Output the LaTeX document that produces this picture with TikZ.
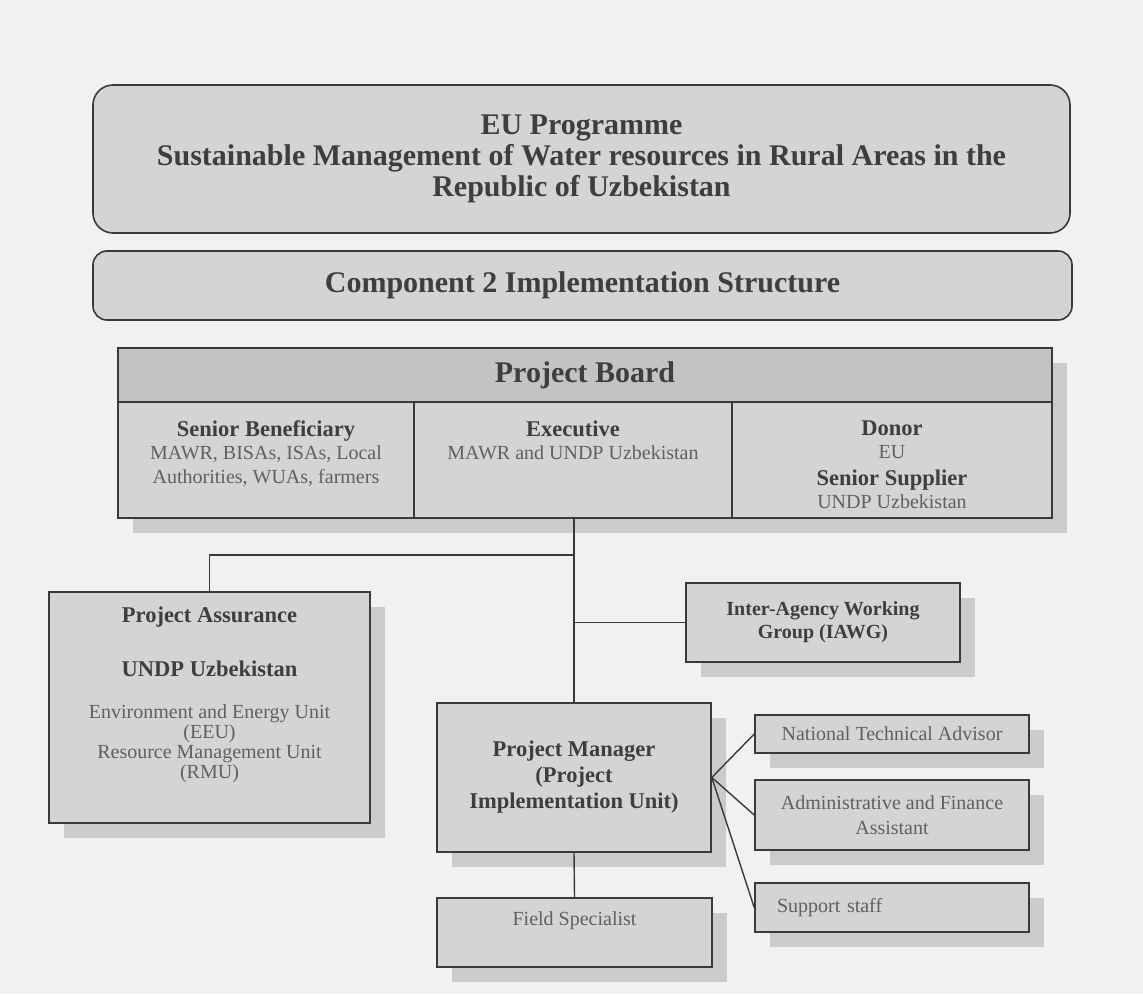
\documentclass[tikz,border=0pt]{standalone}
\usepackage{fontspec}
\setmainfont{Liberation Serif}
\usetikzlibrary{shadows}
\definecolor{pagegrey}{HTML}{F1F1F1}
\definecolor{boxgrey}{HTML}{D4D4D5}
\definecolor{headgrey}{HTML}{C3C3C4}
\definecolor{shadegrey}{HTML}{CBCBCB}
\definecolor{linegrey}{HTML}{3A3A3A}
\definecolor{darktext}{HTML}{3E3E3E}
\definecolor{softtext}{HTML}{606060}
\newcommand\headfont{\fontsize{15}{15.5}\selectfont\bfseries}
\newcommand\subbf{\fontsize{11.25}{10}\selectfont\bfseries\color{darktext}}
\newcommand\plainfont{\fontsize{10}{11.75}\selectfont}
\begin{document}
\begin{tikzpicture}[x=0.5pt, y=-0.5pt,
	box/.style={draw=linegrey, line width=0.8pt, fill=boxgrey, align=center, text=softtext, inner sep=0pt,
		drop shadow={shadow xshift=7.5pt, shadow yshift=-7.5pt, fill=shadegrey, opacity=1}},
	roundbox/.style={draw=linegrey, line width=0.8pt, fill=boxgrey, align=center, text=darktext, font=\headfont},
	conn/.style={draw=linegrey, line width=0.7pt}]
	\fill[pagegrey] (0,0) rectangle (1143,994);
	\useasboundingbox (0,0) rectangle (1143,994);
	% titles
	\node[roundbox, rounded corners=10pt, minimum width=488.5pt, minimum height=74pt] (eu) at (581.5,159)
		{EU Programme\\Sustainable Management of Water resources in Rural Areas in the\\Republic of Uzbekistan};
	\node[roundbox, rounded corners=7pt, minimum width=489.5pt, minimum height=34.5pt] (comp) at (582.5,285.5)
		{Component 2 Implementation Structure};
	% project board
	\node[box, minimum width=467pt, minimum height=85pt] (board) at (585,433) {};
	\node[draw=linegrey, line width=1pt, fill=headgrey, text=darktext, font=\headfont, inner sep=0pt,
		minimum width=467pt, minimum height=27pt, anchor=north] (boardHead) at (board.north) {Project Board};
	\foreach \x in {414,732}{
		\draw[linegrey, line width=0.8pt] (\x,402) -- (\x,518);
	}
	\node[anchor=north, align=center, text=softtext, font=\plainfont, inner sep=0pt] (beneficiary) at (266,420)
		{{\subbf Senior Beneficiary}\\MAWR, BISAs, ISAs, Local\\Authorities, WUAs, farmers};
	\node[anchor=north, align=center, text=softtext, font=\plainfont, inner sep=0pt] (executive) at (573,420)
		{{\subbf Executive}\\MAWR and UNDP Uzbekistan};
	\node[anchor=north, align=center, text=softtext, font=\plainfont, inner sep=0pt] (donor) at (892,420)
		{{\subbf Donor}\\EU\\[1.5pt]{\subbf Senior Supplier}\\UNDP Uzbekistan};
	% units below the board
	\node[box, minimum width=160.5pt, minimum height=115.5pt, font=\fontsize{10}{10}\selectfont] (pa) at (209.5,707.5)
		{{\subbf Project Assurance}\\[15.5pt]{\subbf UNDP Uzbekistan}\\[11pt]Environment and Energy Unit\\(EEU)\\Resource Management Unit\\(RMU)\\[5pt]\mbox{}};
	\node[box, minimum width=137pt, minimum height=39.5pt, text=darktext, font=\fontsize{10}{11.5}\selectfont\bfseries] (iawg) at (823,622.5)
		{Inter-Agency Working\\Group (IAWG)};
	\node[box, minimum width=137pt, minimum height=74.5pt, text=darktext, font=\fontsize{11.25}{13}\selectfont\bfseries] (pm) at (574,777.5)
		{Project Manager\\(Project\\Implementation Unit)};
	\node[box, minimum width=137.5pt, minimum height=34.5pt, font=\fontsize{10}{10}\selectfont] (fs) at (574.5,932.5)
		{Field Specialist\\[4pt]\mbox{}};
	\node[box, minimum width=137pt, minimum height=19pt, font=\fontsize{10}{10}\selectfont] (nta) at (892,734)
		{National Technical Advisor};
	\node[box, minimum width=137pt, minimum height=35pt, font=\fontsize{10}{12.5}\selectfont] (afa) at (892,815)
		{Administrative and Finance\\Assistant};
	\node[box, text width=115pt, inner xsep=11pt, minimum height=24.5pt, align=left, font=\fontsize{10}{10}\selectfont] (staff) at (892,907.5)
		{Support staff};
	% connectors
	\coordinate (split) at (573,555);
	\draw[conn] (board.south -| pm.north) -- (pm.north);
	\draw[conn] (split -| pm.north) -| (pa.north);
	\draw[conn] (iawg.west) -- (iawg.west -| pm.north);
	\draw[conn] (pm.south) -- (fs.north);
	\foreach \n in {nta,afa,staff}{
		\draw[conn] (pm.east) -- (\n.west);
	}
\end{tikzpicture}
\end{document}
